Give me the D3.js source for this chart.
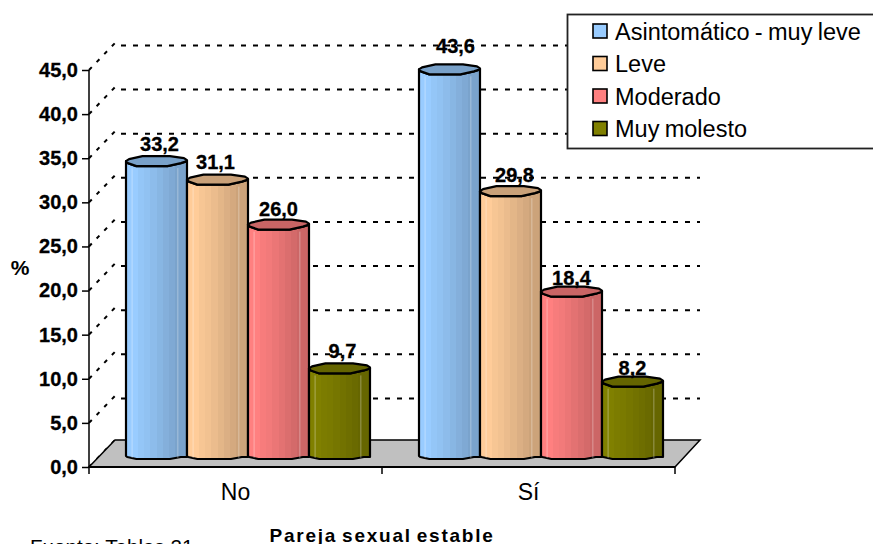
<!DOCTYPE html>
<html><head><meta charset="utf-8">
<script src="https://cdn.jsdelivr.net/npm/d3@7/dist/d3.min.js"></script>
<style>html,body{margin:0;padding:0;background:#fff;overflow:hidden}svg{display:block}text{font-family:"Liberation Sans",Arial,sans-serif;fill:#000}</style>
</head><body><div id="c"></div>
<script>
const categories = ["No", "Sí"];
const seriesNames = ["Asintomático - muy leve", "Leve", "Moderado", "Muy molesto"];
const seriesColors = ["#99CCFF", "#FFCC99", "#FF8080", "#808000"];
const valuesNo = [33.2, 31.1, 26.0, 9.7];
const valuesSi = [43.6, 29.8, 18.4, 8.2];
const yTicks = [0, 5, 10, 15, 20, 25, 30, 35, 40, 45];
const fmt = v => v.toFixed(1).replace(".", ",");

const W = 873, H = 544;
const svg = d3.select("#c").append("svg").attr("width", W).attr("height", H);
const defs = svg.append("defs");

const y = d3.scaleLinear().domain([0, 45]).range([467, 70]);
const x0 = d3.scaleBand().domain(categories).range([89, 675]);
const x1 = d3.scaleBand().domain(seriesNames).range([37, 281]);
const depthX = 26, depthY = -27, gridShift = -24.5;
const barDrop = 8;

const labelDx = [[3, -2, 0, 3], [6, 4, 0, 0]];
const labelDy = [[15, 15.7, 14, 15], [21.5, 14, 12, 12]];

const shades = [1, 1, .97, .95, .92, .89, .86, .83, .8, .8];
seriesColors.forEach((c, i) => {
  const g = defs.append("linearGradient").attr("id", "g" + i);
  shades.forEach((s, k) => {
    const col = d3.rgb(c); const f = d3.rgb(col.r * s, col.g * s, col.b * s);
    g.append("stop").attr("offset", k / shades.length).attr("stop-color", f);
    g.append("stop").attr("offset", (k + 1) / shades.length).attr("stop-color", f);
  });
});

const grid = svg.append("g");
grid.selectAll("line.h").data(yTicks.slice(1)).join("line")
  .attr("x1", 121).attr("x2", 700)
  .attr("y1", d => y(d) + gridShift).attr("y2", d => y(d) + gridShift)
  .attr("stroke", "#000").attr("stroke-width", 2).attr("stroke-dasharray", "5 7");
grid.selectAll("line.d").data(yTicks).join("line")
  .attr("x1", 89).attr("x2", 89 + depthX)
  .attr("y1", d => y(d)).attr("y2", d => y(d) + depthY)
  .attr("stroke", "#000").attr("stroke-width", 2).attr("stroke-dasharray", "4 7");

svg.append("path")
  .attr("d", d3.line()([[89, y(0)], [89 + depthX, y(0) + depthY], [700, y(0) + depthY], [675, y(0)]]) + "Z")
  .attr("fill", "#C0C0C0").attr("stroke", "#000").attr("stroke-width", 1.5);

const axL = svg.append("g").attr("transform", "translate(89,0)")
  .call(d3.axisLeft(y).tickValues(yTicks).tickFormat(fmt).tickSize(7).tickPadding(4));
axL.selectAll("text").style("font-size", "20px").style("font-weight", "bold")
  .style("stroke", "#000").style("stroke-width", .3);
axL.selectAll("line,path").attr("stroke", "#000").attr("stroke-width", 1.5);
axL.select("path").attr("d", `M0,${y(45)}V${y(0)}`);

const axB = svg.append("g").attr("transform", `translate(0,${y(0)})`);
axB.append("line").attr("x1", 89).attr("x2", 675).attr("stroke", "#000").attr("stroke-width", 2);
axB.selectAll("line.t").data([0, 1, 2]).join("line")
  .attr("x1", d => 89 + d * x0.bandwidth()).attr("x2", d => 89 + d * x0.bandwidth())
  .attr("y1", 0).attr("y2", 7).attr("stroke", "#000").attr("stroke-width", 1.5);
axB.selectAll("text").data(categories).join("text")
  .attr("x", d => x0(d) + x0.bandwidth() / 2).attr("y", 33)
  .attr("text-anchor", "middle").style("font-size", "23px").text(d => d);

const barLine = d3.line();
function drawBar(g, cat, i, v) {
  const L = x0(cat) + x1(seriesNames[i]), w = x1.bandwidth();
  const top = y(v) - barDrop, bot = y(0) - barDrop;
  const px = f => L + f * w;
  const body = [[px(0), top - 5], [px(.03), top - 3], [px(.17), top], [px(.68), top], [px(.9), top - 3], [px(1), top - 5],
                [px(1), bot - 2], [px(.9), bot - 2], [px(.72), bot], [px(.17), bot], [px(.02), bot - 2], [px(0), bot - 3]];
  g.append("path").attr("d", barLine(body) + "Z")
    .attr("fill", `url(#g${i})`).attr("stroke", "#000").attr("stroke-width", 2.2).attr("stroke-linejoin", "round");
  [.1, .85].forEach(f => g.append("line").attr("x1", px(f)).attr("x2", px(f))
    .attr("y1", top + 2).attr("y2", bot - 1).attr("stroke", "#fff").attr("stroke-opacity", .35).attr("stroke-width", 1));
  const c = d3.rgb(seriesColors[i]);
  const cap = [[px(0), top - 5], [px(.05), top - 7], [px(.27), top - 10], [px(.72), top - 10], [px(.95), top - 8], [px(1), top - 6],
               [px(1), top - 5], [px(.9), top - 3], [px(.68), top], [px(.17), top], [px(.03), top - 3]];
  g.append("path").attr("d", barLine(cap) + "Z")
    .attr("fill", d3.rgb(c.r * .79, c.g * .79, c.b * .79))
    .attr("stroke", "#000").attr("stroke-width", 2.2).attr("stroke-linejoin", "round");
}
const barsG = svg.append("g");
[valuesNo, valuesSi].forEach((vals, c) => {
  vals.forEach((v, i) => drawBar(barsG, categories[c], i, v));
});

[valuesNo, valuesSi].forEach((vals, c) => {
  vals.forEach((v, i) => {
    svg.append("text")
      .attr("x", x0(categories[c]) + x1(seriesNames[i]) + x1.bandwidth() / 2 + labelDx[c][i])
      .attr("y", y(v) - barDrop - labelDy[c][i])
      .attr("text-anchor", "middle")
      .style("font-size", "20px").style("font-weight", "bold")
      .style("stroke", "#000").style("stroke-width", .3).text(fmt(v));
  });
});

svg.append("text").attr("x", 382).attr("y", 541.5).attr("text-anchor", "middle")
  .style("font-size", "19px").style("font-weight", "bold").style("letter-spacing", "1.75px")
  .style("word-spacing", "-2px").text("Pareja sexual estable");
svg.append("text").attr("x", 20).attr("y", 275).attr("text-anchor", "middle")
  .style("font-size", "21px").style("font-weight", "bold").text("%");
svg.append("text").attr("x", 30).attr("y", 554)
  .style("font-size", "20.6px").text("Fuente: Tablas 21");

const lg = svg.append("g");
lg.append("rect").attr("x", 567.5).attr("y", 14.5).attr("width", 320).attr("height", 134)
  .attr("fill", "#fff").attr("stroke", "#222").attr("stroke-width", 1.8);
const ly = d3.scalePoint().domain(seriesNames).range([31, 128.5]);
seriesNames.forEach((n, i) => {
  lg.append("rect").attr("x", 593).attr("y", ly(n) - 7).attr("width", 14).attr("height", 14)
    .attr("fill", seriesColors[i]).attr("stroke", "#000").attr("stroke-width", 1.6);
  lg.append("text").attr("x", 615).attr("y", ly(n) + 8.8)
    .style("font-size", "23.5px").style("word-spacing", "-1.2px").text(n);
});
</script></body></html>
